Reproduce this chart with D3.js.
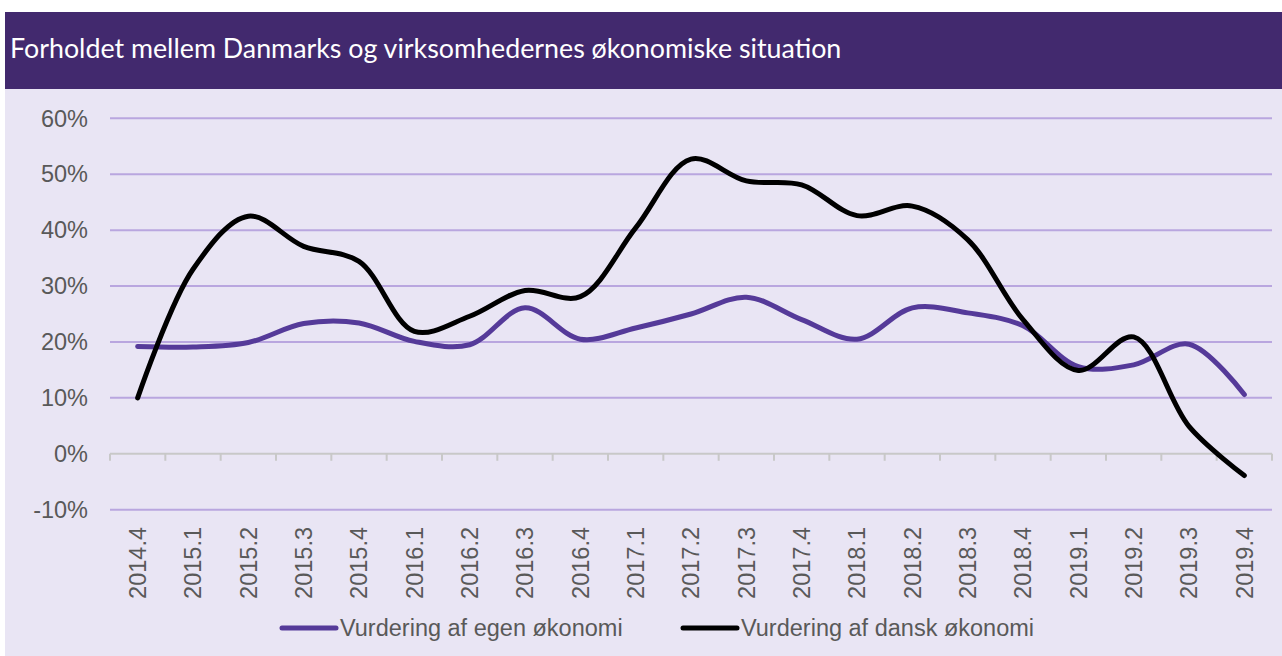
<!DOCTYPE html>
<html>
<head>
<meta charset="utf-8">
<script src="https://cdn.jsdelivr.net/npm/d3@7"></script>
<style>
  body { margin: 0; background: #ffffff; }
  svg { display: block; }
</style>
</head>
<body>
<div id="graf"></div>
<script>
// data
const kvartaler = ['2014.4', '2015.1', '2015.2', '2015.3', '2015.4', '2016.1', '2016.2',
  '2016.3', '2016.4', '2017.1', '2017.2', '2017.3', '2017.4', '2018.1', '2018.2',
  '2018.3', '2018.4', '2019.1', '2019.2', '2019.3', '2019.4']
const egen = [19.2, 19.1, 19.9, 23.3, 23.4, 20.1, 19.5, 26.1, 20.5, 22.5, 25.0,
  28.0, 24.0, 20.5, 26.1, 25.2, 22.9, 15.6, 15.9, 19.6, 10.6]
const dansk = [10.0, 33.0, 42.5, 37.1, 34.4, 21.9, 24.6, 29.2, 28.1, 40.4, 52.7,
  48.8, 48.1, 42.6, 44.3, 38.3, 24.0, 14.9, 20.9, 4.9, -3.9]
const yTicks = [-10, 0, 10, 20, 30, 40, 50, 60]
const serier = [
  { navn: 'Vurdering af egen økonomi', values: egen, farve: '#553a99' },
  { navn: 'Vurdering af dansk økonomi', values: dansk, farve: '#000000' },
]

const anchoTotal = 1282
const altoTotal = 656

const svg = d3.select('#graf')
  .append('svg')
  .attr('width', anchoTotal)
  .attr('height', altoTotal)

// baggrund
svg.append('rect')
  .attr('x', 5).attr('y', 88)
  .attr('width', anchoTotal - 5).attr('height', altoTotal - 88)
  .attr('fill', '#e9e5f4')

// titel
svg.append('rect')
  .attr('x', 5).attr('y', 12)
  .attr('width', anchoTotal - 5).attr('height', 77)
  .attr('fill', '#42296e')

svg.append('text')
  .attr('x', 10).attr('y', 58)
  .attr('fill', '#ffffff')
  .style('font-family', 'Lato, "Open Sans", sans-serif')
  .style('font-size', '26.8px')
  .text('Forholdet mellem Danmarks og virksomhedernes økonomiske situation')

const x = d3.scaleBand().domain(kvartaler).range([110, 1272])
const y = d3.scaleLinear().domain([-10, 60]).range([509.7, 118.3])

const font = '"Liberation Sans", Arial, sans-serif'
const fs = '23.5px'

// gitterlinjer
svg.append('g')
  .selectAll('line')
  .data(yTicks.filter((d) => d !== 0))
  .join('line')
  .attr('x1', 110).attr('x2', 1272)
  .attr('y1', (d) => y(d)).attr('y2', (d) => y(d))
  .attr('stroke', '#b9a6df')
  .attr('stroke-width', 2)

// y-akse labels
svg.append('g')
  .selectAll('text')
  .data(yTicks)
  .join('text')
  .attr('x', 88)
  .attr('y', (d) => y(d))
  .attr('dy', '0.35em')
  .attr('text-anchor', 'end')
  .attr('fill', '#595959')
  .style('font-family', font)
  .style('font-size', fs)
  .text((d) => d + '%')

// x-akse ved 0%
const xAxis = svg.append('g')
  .attr('transform', `translate(0, ${y(0)})`)
xAxis.append('line')
  .attr('x1', 110).attr('x2', 1272)
  .attr('stroke', '#c8c8c8').attr('stroke-width', 2)
xAxis.selectAll('line.tick')
  .data(kvartaler.concat(['end']))
  .join('line')
  .attr('class', 'tick')
  .attr('x1', (d, i) => 110 + i * x.step())
  .attr('x2', (d, i) => 110 + i * x.step())
  .attr('y1', 0).attr('y2', 7)
  .attr('stroke', '#c8c8c8').attr('stroke-width', 2)

// x labels (roteret)
svg.append('g')
  .selectAll('text')
  .data(kvartaler)
  .join('text')
  .attr('transform', (d) => `translate(${x(d) + x.bandwidth() / 2}, 527) rotate(-90)`)
  .attr('dy', '0.35em')
  .attr('text-anchor', 'end')
  .attr('fill', '#595959')
  .style('font-family', font)
  .style('font-size', fs)
  .text((d) => d)

// linjer
const linje = d3.line()
  .x((d, i) => x(kvartaler[i]) + x.bandwidth() / 2)
  .y((d) => y(d))
  .curve(d3.curveCatmullRom.alpha(0.5))

svg.append('g')
  .selectAll('path')
  .data(serier)
  .join('path')
  .attr('d', (d) => linje(d.values))
  .attr('fill', 'none')
  .attr('stroke', (d) => d.farve)
  .attr('stroke-width', 5)
  .attr('stroke-linecap', 'round')
  .attr('stroke-linejoin', 'round')

// legende
const legX = [282, 683]
const leg = svg.append('g')
  .selectAll('g')
  .data(serier)
  .join('g')
  .attr('transform', (d, i) => `translate(${legX[i]}, 628)`)
leg.append('line')
  .attr('x1', 0).attr('x2', 54)
  .attr('stroke', (d) => d.farve)
  .attr('stroke-width', 5)
  .attr('stroke-linecap', 'round')
leg.append('text')
  .attr('x', 58)
  .attr('dy', '0.35em')
  .attr('fill', '#595959')
  .style('font-family', font)
  .style('font-size', fs)
  .text((d) => d.navn)
</script>
</body>
</html>
